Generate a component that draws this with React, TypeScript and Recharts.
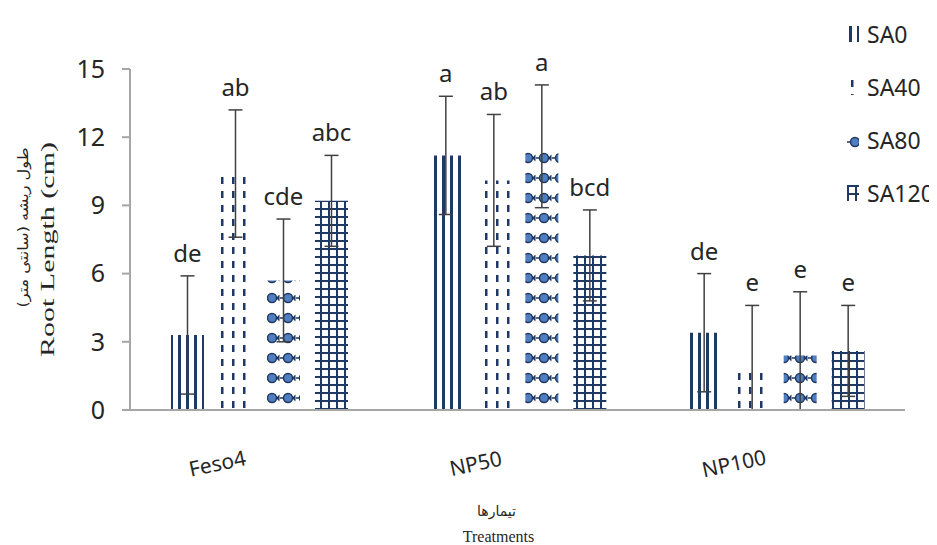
import React from "react";
import { BarChart, Bar, XAxis, YAxis, ErrorBar, LabelList, Label } from "recharts";

const treatments = ["Feso4", "NP50", "NP100"];

const sa0 = [3.3, 11.2, 3.4];
const sa40 = [10.4, 10.1, 1.8];
const sa80 = [5.7, 11.6, 2.4];
const sa120 = [9.2, 6.8, 2.6];

const sa0Err = [2.6, 2.6, 2.6];
const sa40Err = [2.8, 2.9, 2.8];
const sa80Err = [2.7, 2.7, 2.8];
const sa120Err = [2.0, 2.0, 2.0];

const sa0Letters = ["de", "a", "de"];
const sa40Letters = ["ab", "ab", "e"];
const sa80Letters = ["cde", "a", "e"];
const sa120Letters = ["abc", "bcd", "e"];

const yTicks = [0, 3, 6, 9, 12, 15];

const NAVY = "#1f3864";
const BLUE = "#4f7fc0";
const AXIS = "#a6a6a6";
const TEXT = "#262626";

const series = [
  { key: "SA0", values: sa0, errs: sa0Err, letters: sa0Letters },
  { key: "SA40", values: sa40, errs: sa40Err, letters: sa40Letters },
  { key: "SA80", values: sa80, errs: sa80Err, letters: sa80Letters },
  { key: "SA120", values: sa120, errs: sa120Err, letters: sa120Letters },
];

// error bars stop at the axis (0), like in the source figure
const data = treatments.map((name, i) => {
  const row: Record<string, any> = { name };
  series.forEach((s) => {
    row[s.key] = s.values[i];
    row[s.key + "_err"] = [Math.min(s.errs[i], s.values[i]), s.errs[i]];
    row[s.key + "_lab"] = s.letters[i];
  });
  return row;
});

function Patterns() {
  return (
    <defs>
      <pattern id="pSA0" width={8} height={10} patternUnits="userSpaceOnUse">
        <rect width={8} height={10} fill="#fff" />
        <rect x={2} width={3} height={10} fill={NAVY} />
      </pattern>
      <pattern id="pSA40" width={11} height={14} patternUnits="userSpaceOnUse">
        <rect width={11} height={14} fill="#fff" />
        <rect x={4} y={1} width={2.5} height={7} fill={NAVY} />
      </pattern>
      <pattern id="pSA80" width={16} height={20} patternUnits="userSpaceOnUse">
        <rect width={16} height={20} fill="#fff" />
        <line x1={0} y1={10} x2={3} y2={10} stroke={NAVY} strokeWidth={1.5} />
        <circle cx={8} cy={10} r={4.5} fill={BLUE} stroke={NAVY} strokeWidth={1.5} />
        <polygon points="15.5,6.5 12,10 15.5,13.5" fill={NAVY} />
      </pattern>
      <pattern id="pSA120" width={8} height={8} patternUnits="userSpaceOnUse">
        <rect width={8} height={8} fill="#fff" />
        <rect x={0} y={0} width={2} height={8} fill={NAVY} />
        <rect x={0} y={0} width={8} height={2} fill={NAVY} />
      </pattern>
    </defs>
  );
}

const letterLabel = (values: number[], errs: number[]) => (props: any) => {
  const vb = props.viewBox || props;
  const x = props.x ?? vb.x;
  const y = props.y ?? vb.y;
  const width = props.width ?? vb.width;
  const height = props.height ?? vb.height;
  const i = props.index;
  if (i == null) return null;
  const perUnit = height / values[i];
  const errTop = y - errs[i] * perUnit;
  return (
    <text x={x + width / 2} y={errTop - 14} textAnchor="middle" fontSize={24} fill={TEXT}>
      {props.value}
    </text>
  );
};

const TreatmentTick = (props: any) => {
  const { x, y, payload } = props;
  const cx = x - 42;
  const cy = y + 45;
  return (
    <text
      x={cx}
      y={cy}
      textAnchor="middle"
      dominantBaseline="central"
      fontSize={21}
      fill={TEXT}
      transform={`rotate(-12 ${cx} ${cy})`}
    >
      {payload.value}
    </text>
  );
};

const YTitle = (props: any) => {
  const vb = props.viewBox;
  const cy = vb.y + vb.height / 2;
  return (
    <g>
      <text
        x={15}
        y={cy - 12}
        textAnchor="middle"
        dominantBaseline="central"
        fontFamily="DejaVu Sans"
        fontSize={14}
        textLength={160}
        lengthAdjust="spacingAndGlyphs"
        fill={TEXT}
        transform={`rotate(-90 15 ${cy - 12})`}
      >
        طول ریشه (سانتی متر)
      </text>
      <text
        x={40}
        y={cy + 10}
        textAnchor="middle"
        dominantBaseline="central"
        fontFamily="Liberation Serif"
        fontSize={18}
        textLength={215}
        lengthAdjust="spacingAndGlyphs"
        fill={TEXT}
        transform={`rotate(-90 40 ${cy + 10})`}
      >
        Root Length (cm)
      </text>
    </g>
  );
};

const XTitle = (props: any) => {
  const vb = props.viewBox;
  const cx = vb.x + vb.width / 2 - 21;
  return (
    <g>
      <text x={cx} y={vb.y + 106} textAnchor="middle" fontFamily="DejaVu Sans" fontSize={14} fill={TEXT}>
        تیمارها
      </text>
      <text x={cx + 2} y={vb.y + 132} textAnchor="middle" fontFamily="Liberation Serif" fontSize={16} fill={TEXT}>
        Treatments
      </text>
    </g>
  );
};

function LegendBox() {
  return (
    <div style={{ position: "absolute", left: 839, top: -1, fontFamily: "Noto Sans", fontSize: 23, color: TEXT }}>
      {series.map((s) => (
        <div key={s.key} style={{ height: 53, display: "flex", alignItems: "center", whiteSpace: "nowrap" }}>
          <svg width={12} height={16} style={{ marginRight: 8 }}>
            <rect width={12} height={16} fill={`url(#p${s.key})`} />
          </svg>
          {s.key}
        </div>
      ))}
    </div>
  );
}

export default function App() {
  return (
    <div style={{ position: "relative", width: 929, height: 537, fontFamily: "Noto Sans" }}>
      <BarChart
        width={929}
        height={537}
        data={data}
        margin={{ top: 61, right: 32, bottom: 0, left: 0 }}
        barCategoryGap={41}
        barGap={15}
      >
        <Patterns />
        <XAxis
          dataKey="name"
          height={135}
          axisLine={{ stroke: AXIS, strokeWidth: 2 }}
          tickLine={false}
          tick={<TreatmentTick />}
          interval={0}
        >
          <Label content={<XTitle />} />
        </XAxis>
        <YAxis
          width={122}
          domain={[0, 15]}
          allowDataOverflow
          ticks={yTicks}
          interval={0}
          axisLine={{ stroke: AXIS, strokeWidth: 2 }}
          tickLine={{ stroke: AXIS, strokeWidth: 2 }}
          tickSize={8}
          tickMargin={17}
          tick={{ fontSize: 25, fill: TEXT }}
        >
          <Label content={<YTitle />} />
        </YAxis>
        {series.map((s) => (
          <Bar key={s.key} dataKey={s.key} fill={`url(#p${s.key})`} isAnimationActive={false}>
            <ErrorBar
              dataKey={s.key + "_err"}
              direction="y"
              width={7}
              stroke="#404040"
              strokeWidth={1.5}
              isAnimationActive={false}
            />
            <LabelList dataKey={s.key + "_lab"} content={letterLabel(s.values, s.errs)} />
          </Bar>
        ))}
      </BarChart>
      <LegendBox />
    </div>
  );
}
